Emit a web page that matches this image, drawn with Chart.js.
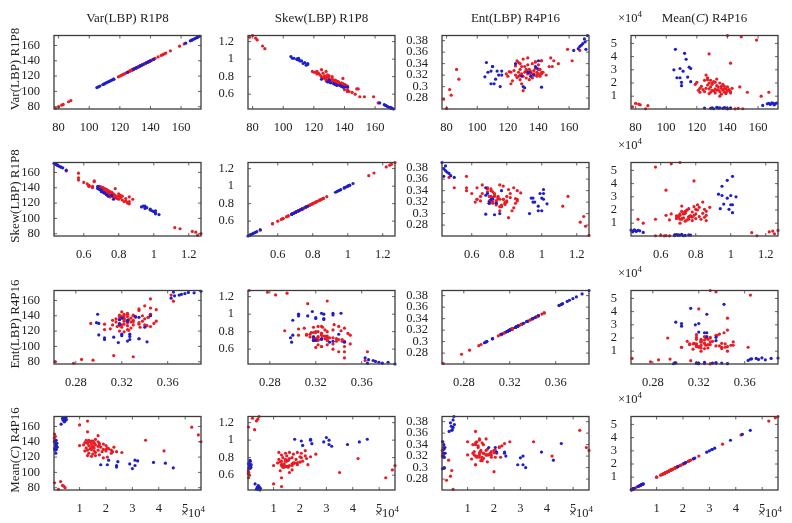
<!DOCTYPE html>
<html lang="en">
<head>
<meta charset="UTF-8" />
<title>LBP feature scatter matrix</title>
<script src="https://cdn.jsdelivr.net/npm/chart.js"></script>
<style>
  body { margin: 0; background: #fff; font-family: 'Liberation Serif', 'Times New Roman', serif; color: #222; }
  #fig { position: relative; width: 792px; height: 523px; overflow: hidden; }
  #fig canvas { position: absolute; }
  .lbl { position: absolute; font-size: 13px; line-height: 1; white-space: nowrap; }
  .title { transform: translateX(-50%); }
  .rowlbl { transform: translate(-50%, -50%) rotate(-90deg); }
  .exp { font-size: 12.5px; }
  .exp sup { font-size: 9px; vertical-align: 5px; }
</style>
</head>
<body>
<div id="fig"></div>

<script>
// feature names (row / column labels)
const names = ['Var(LBP) R1P8', 'Skew(LBP) R1P8', 'Ent(LBP) R4P16', 'Mean(<i>C</i>) R4P16'];

// blue class
const varBlue = [106, 112, 113, 115, 116, 109, 105, 111, 114, 109, 107, 116, 110, 110,
  163, 166, 167, 168, 169, 170, 171, 172, 170.5,
  125, 129, 130, 131, 133, 134, 135, 137, 138, 139, 140, 142];
const skewBlue = [1.01, 0.98, 0.95, 0.93, 0.95, 1.00, 1.03, 0.98, 0.96, 1.00, 1.01, 0.94, 0.99, 1.01,
  0.50, 0.48, 0.47, 0.46, 0.45, 0.45, 0.44, 0.43, 0.44,
  0.77, 0.74, 0.76, 0.73, 0.72, 0.71, 0.70, 0.70, 0.69, 0.68, 0.68, 0.68];
const entBlue = [0.342, 0.313, 0.327, 0.300, 0.320, 0.305, 0.317, 0.305, 0.320, 0.327, 0.325, 0.327, 0.335, 0.335,
  0.363, 0.366, 0.370, 0.372, 0.375, 0.383, 0.365, 0.389, 0.378,
  0.340, 0.318, 0.300, 0.298, 0.325, 0.325, 0.318, 0.320, 0.335, 0.332, 0.345, 0.299];
const meanBlue = [45500, 42500, 38000, 32000, 31000, 31000, 30000, 29000, 24500, 24000, 24000, 21000, 20500, 18000,
  3000, 4200, 4500, 3800, 5000, 4500, 4000, 4800, 3500,
  1000, 800, 1200, 500, 1500, 1000, 1200, 800, 1400, 1000, 600, 1100];

// red class
const varRed = [78, 80, 82, 83, 86.5, 88,
  150, 147, 145, 142, 140,
  159, 149, 140, 142, 128,
  162, 167, 153,
  119, 120, 121, 122, 123, 124, 125, 125, 126, 126, 127, 127, 128, 128, 128, 129, 129, 130, 130, 130,
  131, 131, 132, 132, 133, 133, 134, 134, 135, 135, 136, 136, 137, 137, 138, 138, 139, 139, 140, 140,
  141, 142, 142, 143, 141, 139, 136, 148, 138, 133, 135, 129, 127, 132, 122];
const skewRed = [1.25, 1.27, 1.24, 1.22, 1.15, 1.12,
  0.57, 0.60, 0.62, 0.63, 0.65,
  0.57, 0.66, 0.71, 0.63, 0.79,
  0.50, 0.47, 0.57,
  0.86, 0.85, 0.85, 0.83, 0.84, 0.82, 0.88, 0.80, 0.84, 0.79, 0.81, 0.78, 0.86, 0.77, 0.75, 0.80, 0.76, 0.78, 0.74, 0.81,
  0.76, 0.73, 0.77, 0.75, 0.74, 0.72, 0.76, 0.73, 0.72, 0.75, 0.71, 0.74, 0.72, 0.70, 0.71, 0.73, 0.70, 0.78, 0.69, 0.71,
  0.70, 0.69, 0.65, 0.63, 0.70, 0.72, 0.74, 0.66, 0.69, 0.76, 0.71, 0.82, 0.79, 0.80, 0.86];
const entRed = [0.278, 0.262, 0.295, 0.285, 0.330, 0.313,
  0.345, 0.335, 0.320, 0.325, 0.330,
  0.365, 0.335, 0.330, 0.345, 0.320,
  0.345, 0.363, 0.340,
  0.322, 0.318, 0.326, 0.305, 0.310, 0.328, 0.336, 0.320, 0.345, 0.316, 0.342, 0.325, 0.340, 0.312, 0.330, 0.322, 0.305, 0.348, 0.318, 0.293,
  0.325, 0.335, 0.315, 0.328, 0.322, 0.338, 0.312, 0.330, 0.318, 0.326, 0.340, 0.315, 0.328, 0.322, 0.343, 0.332, 0.318, 0.325, 0.338, 0.322,
  0.330, 0.345, 0.322, 0.325, 0.318, 0.320, 0.322, 0.350, 0.343, 0.350, 0.322, 0.335, 0.318, 0.330, 0.325];
const meanRed = [2000, 4500, 4000, 3500, 500, 2800,
  500, 800, 400, 600, 400,
  52500, 55000, 56000, 35000, 42000,
  10000, 13000, 13000,
  19000, 20500, 14500, 13000, 17500, 15000, 22000, 13500, 26000, 16000, 24000, 18500, 12000, 15500, 20000, 17000, 13000, 14500, 19000, 20000,
  21000, 14000, 15500, 12500, 18000, 23000, 15000, 17000, 13500, 20000, 16000, 11500, 19000, 14500, 13000, 17500, 15500, 12000, 14000, 17000,
  15000, 13500, 12500, 16000, 14500, 13000, 17500, 17000, 15500, 14500, 10000, 22000, 22500, 20500, 16000];

// tick values per feature (x axis / y axis)
const varTicks = [80, 100, 120, 140, 160];
const skewTicks = [0.6, 0.8, 1, 1.2];
const entXTicks = [0.28, 0.32, 0.36];
const entYTicks = [0.28, 0.3, 0.32, 0.34, 0.36, 0.38];
const meanTicks = [10000, 20000, 30000, 40000, 50000];

const blue = [varBlue, skewBlue, entBlue, meanBlue];
const red = [varRed, skewRed, entRed, meanRed];
const xTicks = [varTicks, skewTicks, entXTicks, meanTicks];
const yTicks = [varTicks, skewTicks, entYTicks, meanTicks];
const limits = [[77, 173], [0.43, 1.27], [0.261, 0.389], [300, 56000]];
const fmt = [v => String(v), v => String(v), v => String(v), v => String(v / 10000)];

// panel geometry
const colLeft = [54, 248, 442, 631];
const rowTop = [28, 155, 283, 409];
const boxW = 147, boxH = 81;
const padL = 50, padT = 6, padR = 8, padB = 24;

const tickFont = { family: "'Liberation Serif', serif", size: 12.5 };

// box + inward tick marks, matlab style
const boxPlugin = {
  id: 'box',
  afterDatasetsDraw(chart) {
    const { ctx, chartArea: a, scales } = chart;
    ctx.save();
    ctx.strokeStyle = '#3c3c3c';
    ctx.lineWidth = 1.3;
    ctx.strokeRect(a.left, a.top, a.width, a.height);
    ctx.beginPath();
    ctx.lineWidth = 0.8;
    scales.x.ticks.forEach(t => {
      const p = scales.x.getPixelForValue(t.value);
      ctx.moveTo(p, a.bottom); ctx.lineTo(p, a.bottom - 3);
      ctx.moveTo(p, a.top); ctx.lineTo(p, a.top + 3);
    });
    scales.y.ticks.forEach(t => {
      const p = scales.y.getPixelForValue(t.value);
      ctx.moveTo(a.left, p); ctx.lineTo(a.left + 3, p);
      ctx.moveTo(a.right, p); ctx.lineTo(a.right - 3, p);
    });
    ctx.stroke();
    ctx.restore();
  }
};

function axis(i, isX) {
  const tv = isX ? xTicks[i] : yTicks[i];
  return {
    type: 'linear',
    min: limits[i][0],
    max: limits[i][1],
    afterBuildTicks: s => { s.ticks = tv.map(v => ({ value: v })); },
    afterFit: s => { if (isX) s.height = padB; else s.width = padL; },
    grid: { display: false },
    border: { display: false },
    ticks: { font: tickFont, color: '#222', padding: isX ? 3 : 6, maxRotation: 0, autoSkip: false, callback: fmt[i] }
  };
}

const fig = document.getElementById('fig');

for (let r = 0; r < 4; r++) {
  for (let c = 0; c < 4; c++) {
    const cv = document.createElement('canvas');
    cv.width = padL + boxW + padR;
    cv.height = padT + boxH + padB;
    cv.style.left = (colLeft[c] - padL) + 'px';
    cv.style.top = (rowTop[r] - padT) + 'px';
    fig.appendChild(cv);

    const pts = (src) => src[r].map((v, k) => ({ x: v, y: src[c][k] }));

    new Chart(cv, {
      type: 'scatter',
      data: {
        datasets: [
          { data: pts(blue), backgroundColor: 'rgb(30,30,205)', pointRadius: 1.6, borderWidth: 0, clip: false },
          { data: pts(red), backgroundColor: 'rgb(232,28,36)', pointRadius: 1.6, borderWidth: 0, clip: false }
        ]
      },
      options: {
        responsive: false,
        animation: false,
        layout: { padding: { top: padT, right: padR, left: 0, bottom: 0 } },
        plugins: { legend: { display: false }, tooltip: { enabled: false } },
        scales: { x: axis(r, true), y: axis(c, false) }
      },
      plugins: [boxPlugin]
    });
  }
}

// column titles, row labels, exponent labels
function addLabel(html, cls, left, top) {
  const d = document.createElement('div');
  d.className = 'lbl ' + cls;
  d.innerHTML = html;
  d.style.left = left + 'px';
  d.style.top = top + 'px';
  fig.appendChild(d);
}

for (let k = 0; k < 4; k++) {
  addLabel(names[k], 'title', colLeft[k] + boxW / 2, 11);
  addLabel(names[k], 'rowlbl', 14, rowTop[k] + boxH / 2);
  // x10^4 over the mean y-axis (column 4)
  addLabel('&times;10<sup>4</sup>', 'exp', colLeft[3] - 13, rowTop[k] - 18);
  // x10^4 under the mean x-axis (row 4)
  addLabel('&times;10<sup>4</sup>', 'exp', colLeft[k] + boxW - 20, rowTop[3] + boxH + 15);
}
</script>
</body>
</html>
